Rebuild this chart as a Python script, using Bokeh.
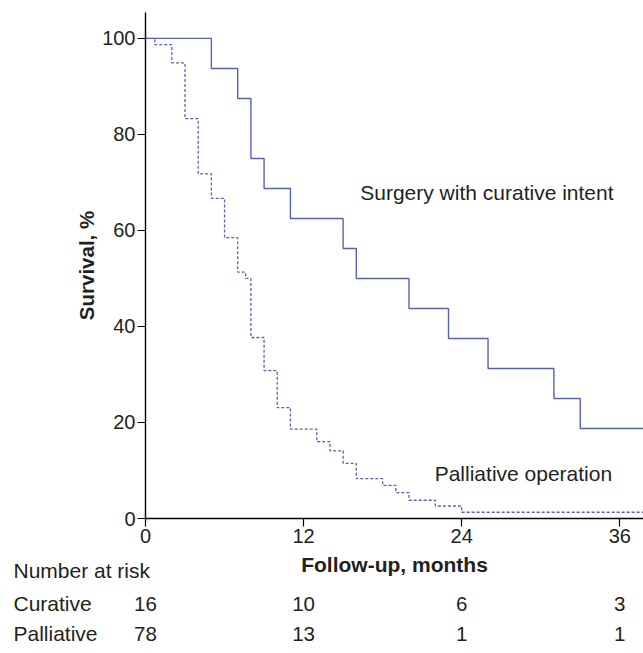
from bokeh.plotting import figure
from bokeh.models import Range1d, FixedTicker, ColumnDataSource
from bokeh.core.properties import value
from bokeh.embed import file_html
from bokeh.resources import INLINE

# ---- data ----
curative_months = [0, 5, 7, 8, 9, 11, 15, 16, 20, 23, 26, 31, 33, 39]
curative_survival = [100, 93.75, 87.5, 75, 68.75, 62.5, 56.25, 50, 43.75, 37.5, 31.25, 25, 18.75, 18.75]

palliative_months = [0, 0.7, 2, 3, 4, 5, 6, 7, 7.6, 8, 9, 10, 11, 13, 14, 15, 16, 18, 19, 20, 22, 24, 39]
palliative_survival = [100, 98.7, 94.9, 83.3, 71.8, 66.7, 58.5, 51.3, 50.0, 37.7, 30.8, 23.1, 18.6,
                       16.0, 14.1, 11.5, 8.3, 6.9, 5.4, 3.8, 2.6, 1.3, 1.3]

x_ticks = [0, 12, 24, 36]
y_ticks = [0, 20, 40, 60, 80, 100]

risk_months = [0, 12, 24, 36]
risk_curative = [16, 10, 6, 3]
risk_palliative = [78, 13, 1, 1]
risk_rows = ["Curative", "Palliative"]

# ---- layout ----
W = 643
H_MAIN, H_TABLE = 546, 99
LEFT, TOP, BOTTOM = 145, 12, 28
X_END, Y_END = 37.8, 105.4
frame_w = W - LEFT
px_x = frame_w / X_END

LINE = "#5a62b4"
TXT = "#231f20"
FONT = "Liberation Sans"

p = figure(width=W, height=H_MAIN, output_backend="svg", toolbar_location=None, title=None,
           x_range=Range1d(0, X_END), y_range=Range1d(0, Y_END),
           min_border_left=LEFT, min_border_right=0,
           min_border_top=TOP, min_border_bottom=BOTTOM)
p.grid.visible = False
p.outline_line_color = None
p.background_fill_color = "white"
p.border_fill_color = "white"

p.step(palliative_months, palliative_survival, mode="after", line_color=LINE,
       line_width=1.3, line_dash="3 2")
p.step(curative_months, curative_survival, mode="after", line_color=LINE, line_width=1.4)

for ax in (p.xaxis[0], p.yaxis[0]):
    ax.axis_line_color = "black"
    ax.axis_line_width = 1.4
    ax.major_tick_line_color = "black"
    ax.major_tick_line_width = 1.2
    ax.major_tick_in = 0
    ax.major_tick_out = 8
    ax.minor_tick_line_color = None
    ax.major_label_text_font = FONT
    ax.major_label_text_font_size = "20px"
    ax.major_label_text_color = TXT
    ax.axis_label_text_font = FONT
    ax.axis_label_text_font_size = "20.5px"
    ax.axis_label_text_font_style = "bold"
    ax.axis_label_text_color = TXT

p.xaxis.ticker = FixedTicker(ticks=x_ticks)
p.yaxis.ticker = FixedTicker(ticks=y_ticks)
p.yaxis.axis_label = "Survival, %"
p.xaxis.major_label_standoff = 2
p.yaxis.major_label_standoff = 2
p.yaxis.axis_label_standoff = 1

txt_kw = dict(text_font=value(FONT), text_color=TXT, text_baseline="alphabetic")

# curve labels
p.text(x=[16.3, 21.95], y=[67.9, 9.45],
       text=["Surgery with curative intent", "Palliative operation"],
       text_font_size="21px", text_align="left", **txt_kw)

# ---- number-at-risk table (separate root, full-width frame, same month scale) ----
t = figure(width=W, height=H_TABLE, output_backend="svg", toolbar_location=None, title=None,
           x_axis_type=None, y_axis_type=None,
           x_range=Range1d(-LEFT / px_x, X_END), y_range=Range1d(H_TABLE, 0),
           min_border_left=0, min_border_right=0, min_border_top=0, min_border_bottom=0)
t.grid.visible = False
t.outline_line_color = None
t.background_fill_color = "white"
t.border_fill_color = "white"

# x-axis title of the survival plot, centred under its frame
t.text(x=[X_END / 2], y=[18], text=["Follow-up, months"], text_font_size="21px",
       text_font_style="bold", text_align="center", **txt_kw)

row_x = -(LEFT - 13) / px_x
base = [24, 57, 87]
t.text(x=[row_x] * 3, y=base, text=["Number at risk"] + risk_rows,
       text_font_size="21px", text_align="left", **txt_kw)

nums = ColumnDataSource(dict(
    x=risk_months + risk_months,
    y=[base[1]] * len(risk_months) + [base[2]] * len(risk_months),
    t=[str(v) for v in risk_curative + risk_palliative]))
t.text(x="x", y="y", text="t", source=nums, text_font_size="20.5px",
       text_align="center", **txt_kw)

open("out.html", "w").write(file_html([p, t], INLINE))
